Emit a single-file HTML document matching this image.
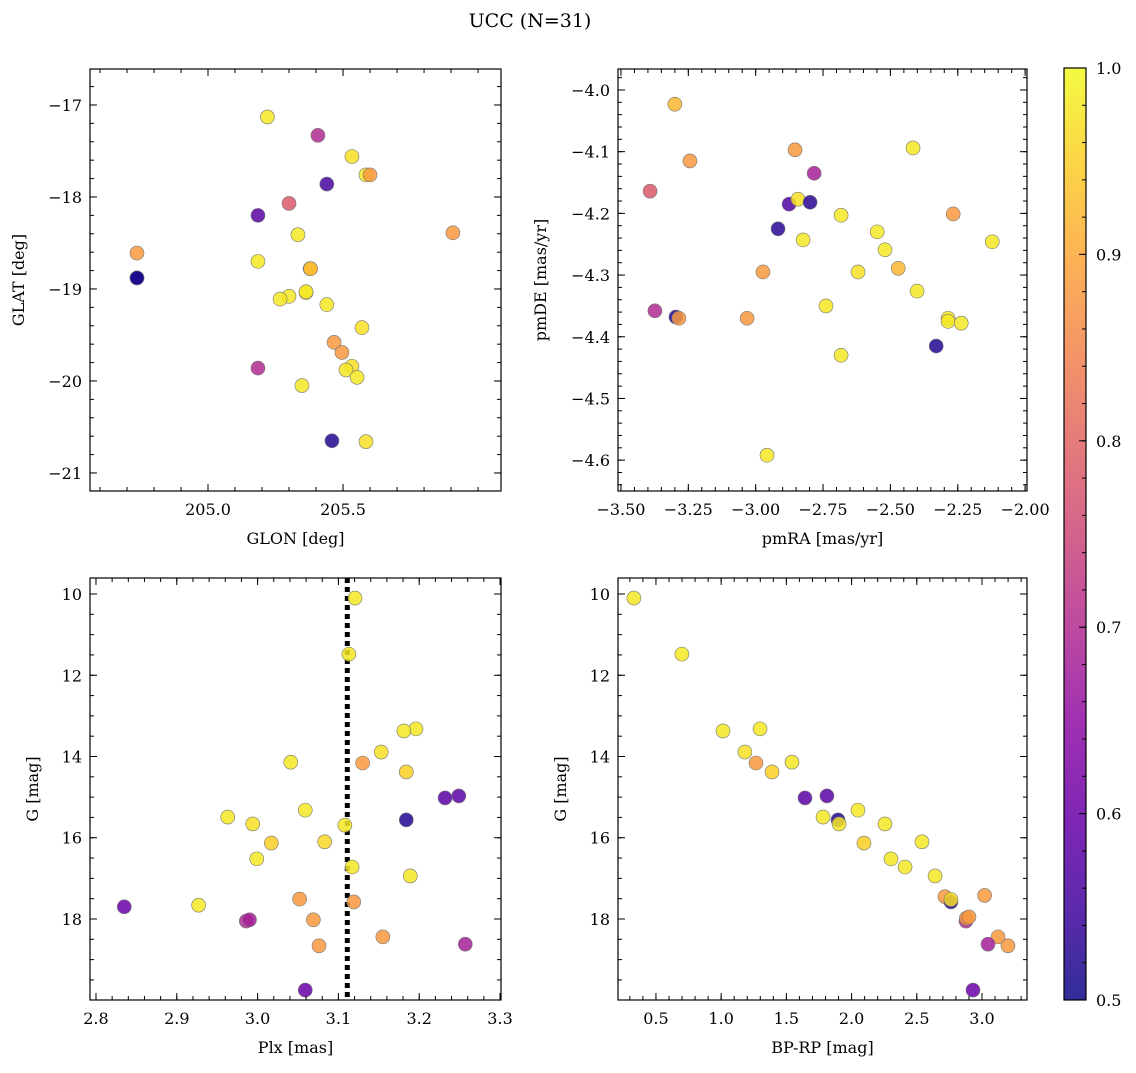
<!DOCTYPE html>
<html><head><meta charset="utf-8"><style>
body{margin:0;background:#fff}
svg text{font-family:"DejaVu Serif","Liberation Serif",serif;fill:#000}
</style></head><body>
<svg id="fig" width="1136" height="1068" viewBox="0 0 1136 1068" xmlns="http://www.w3.org/2000/svg">
<text x="530" y="27" font-size="19" text-anchor="middle">UCC (N=31)</text>
</svg>
<script>
// ---- data ----
const p1Glon=[205.22,205.407,205.533,205.585,205.60,205.44,205.30,205.185,205.333,205.907,204.737,205.185,205.378,205.38,204.737,204.737,205.363,205.30,205.267,205.44,205.57,205.467,205.496,205.533,205.511,205.552,205.185,205.348,205.459,205.585,205.363];
const p1Glat=[-17.13,-17.33,-17.56,-17.76,-17.76,-17.86,-18.07,-18.20,-18.41,-18.39,-18.61,-18.70,-18.78,-18.78,-18.88,-18.88,-19.04,-19.08,-19.11,-19.17,-19.42,-19.58,-19.69,-19.84,-19.88,-19.96,-19.86,-20.05,-20.65,-20.66,-19.03];
const p1Prob=[0.98,0.7,0.97,0.98,0.88,0.56,0.78,0.58,0.98,0.88,0.88,0.98,0.97,0.92,0.52,0.51,0.98,0.98,0.98,0.98,0.97,0.88,0.88,0.97,0.98,0.98,0.7,0.98,0.52,0.97,0.98];
const p2Pmra=[-3.30,-3.244,-3.392,-2.854,-2.783,-2.416,-2.876,-2.843,-2.798,-2.824,-2.917,-2.683,-2.267,-2.549,-2.52,-2.122,-2.973,-2.62,-2.471,-2.401,-2.739,-3.374,-3.296,-3.285,-3.032,-2.286,-2.286,-2.237,-2.330,-2.683,-2.958];
const p2Pmde=[-4.023,-4.115,-4.164,-4.097,-4.135,-4.094,-4.185,-4.177,-4.182,-4.243,-4.225,-4.203,-4.201,-4.230,-4.259,-4.246,-4.295,-4.295,-4.289,-4.326,-4.350,-4.358,-4.368,-4.370,-4.370,-4.370,-4.375,-4.378,-4.415,-4.430,-4.592];
const p2Prob=[0.92,0.88,0.78,0.88,0.68,0.98,0.57,0.97,0.53,0.98,0.53,0.98,0.88,0.98,0.98,0.98,0.88,0.97,0.92,0.98,0.98,0.7,0.52,0.88,0.88,0.98,0.98,0.98,0.52,0.98,0.98];
const p3Plx=[3.1205,3.113,3.196,3.181,3.153,3.041,3.130,3.184,3.232,3.249,3.184,3.059,2.963,2.994,3.108,3.017,3.083,2.999,3.117,3.189,2.835,2.927,3.052,3.119,3.069,2.986,2.99,3.076,3.155,3.257,3.059];
const p3G=[10.1,11.48,13.32,13.37,13.89,14.14,14.16,14.38,15.02,14.97,15.56,15.32,15.49,15.66,15.69,16.13,16.10,16.52,16.72,16.94,17.70,17.66,17.51,17.58,18.02,18.05,18.02,18.66,18.44,18.62,19.75];
const p3Prob=[0.98,0.98,0.98,0.98,0.97,0.98,0.88,0.95,0.58,0.58,0.52,0.98,0.98,0.97,0.98,0.95,0.96,0.98,0.98,0.98,0.6,0.98,0.88,0.88,0.88,0.7,0.68,0.88,0.88,0.68,0.6];
const p4Bprp=[0.331,0.699,1.014,1.298,1.182,1.267,1.39,1.543,1.643,1.811,1.896,1.781,1.904,2.049,2.256,2.095,2.54,2.302,2.41,2.640,2.716,2.762,2.762,3.02,2.877,2.88,2.9,3.123,3.046,3.199,2.931];
const p4G=[10.1,11.48,13.37,13.32,13.89,14.16,14.38,14.14,15.02,14.97,15.56,15.49,15.66,15.32,15.66,16.13,16.10,16.52,16.72,16.94,17.45,17.58,17.52,17.42,18.05,17.98,17.95,18.44,18.62,18.66,19.75];
const p4Prob=[0.98,0.98,0.98,0.98,0.97,0.88,0.95,0.98,0.58,0.58,0.52,0.98,0.98,0.98,0.98,0.95,0.98,0.98,0.98,0.98,0.88,0.52,0.97,0.88,0.7,0.88,0.88,0.88,0.68,0.88,0.6];
const plxCut=[3.111];
const cbTicks=[0.5,0.6,0.7,0.8,0.9,1.0];

const NS="http://www.w3.org/2000/svg";
const svg=document.getElementById('fig');
function mk(tag,attrs,parent){const e=document.createElementNS(NS,tag);for(const k in attrs)e.setAttribute(k,attrs[k]);(parent||svg).appendChild(e);return e;}
const stops=[[13,8,135],[65,4,157],[106,0,168],[143,13,164],[177,42,144],[204,71,120],[225,100,98],[242,132,75],[252,166,54],[252,206,37],[240,249,33]];
function plasma(t){t=Math.max(0,Math.min(1,t));const f=t*10,i=Math.min(9,Math.floor(f)),r=f-i;const a=stops[i],b=stops[i+1];return 'rgb('+a.map((v,k)=>Math.round(v+(b[k]-v)*r)).join(',')+')';}
function pcol(p){return plasma((p-0.5)/0.5);}
function rng(a,b,s){const o=[];for(let v=a;v<=b+1e-9;v+=s)o.push(+v.toFixed(6));return o;}

function panel(c){
  const g=mk('g',{},svg);
  
  
  const X=v=>c.x0+(v-c.xmin)/(c.xmax-c.xmin)*(c.x1-c.x0);
  const Y=v=>c.inv? c.y0+(v-c.ymin)/(c.ymax-c.ymin)*(c.y1-c.y0) : c.y1-(v-c.ymin)/(c.ymax-c.ymin)*(c.y1-c.y0);
  if(c.vline){for(const v of c.vline){const l=mk('line',{x1:X(v),x2:X(v),y1:c.y0,y2:c.y1,stroke:'#000','stroke-width':5,'stroke-dasharray':'5,4'},g);
    
    }}
  for(let i=0;i<c.xs.length;i++){
    const pt=mk('circle',{cx:X(c.xs[i]),cy:Y(c.ys[i]),r:7,fill:pcol(c.pr[i]),'fill-opacity':0.85,stroke:'#777','stroke-width':0.6},g);
    
    
  }
  const fr=mk('rect',{x:c.x0,y:c.y0,width:c.x1-c.x0,height:c.y1-c.y0,fill:'none',stroke:'#000','stroke-width':1.2},g);
  
  
  for(const v of c.xminor){if(v<c.xmin||v>c.xmax)continue;const x=X(v);mk('line',{x1:x,x2:x,y1:c.y1,y2:c.y1-4,stroke:'#000'},g);mk('line',{x1:x,x2:x,y1:c.y0,y2:c.y0+4,stroke:'#000'},g);}
  for(const v of c.yminor){if(v<c.ymin||v>c.ymax)continue;const y=Y(v);mk('line',{x1:c.x0,x2:c.x0+4,y1:y,y2:y,stroke:'#000'},g);mk('line',{x1:c.x1,x2:c.x1-4,y1:y,y2:y,stroke:'#000'},g);}
  for(const v of c.xt){const x=X(v);mk('line',{x1:x,x2:x,y1:c.y1,y2:c.y1-7,stroke:'#000'},g);mk('line',{x1:x,x2:x,y1:c.y0,y2:c.y0+7,stroke:'#000'},g);
    const t=mk('text',{x:x,y:c.y1+24,'font-size':16,'text-anchor':'middle'},g);t.textContent=c.xf(v);
    
    }
  for(const v of c.yt){const y=Y(v);mk('line',{x1:c.x0,x2:c.x0+7,y1:y,y2:y,stroke:'#000'},g);mk('line',{x1:c.x1,x2:c.x1-7,y1:y,y2:y,stroke:'#000'},g);
    const t=mk('text',{x:c.x0-8,y:y+6,'font-size':16,'text-anchor':'end'},g);t.textContent=c.yf(v);
    
    }
  const xl=mk('text',{x:(c.x0+c.x1)/2,y:c.y1+53,'font-size':16,'text-anchor':'middle'},g);xl.textContent=c.xlab;
  
  
  const yx=c.ylx, yy=(c.y0+c.y1)/2;
  const yl=mk('text',{x:yx,y:yy,'font-size':16,'text-anchor':'middle',transform:`rotate(-90 ${yx} ${yy})`},g);yl.textContent=c.ylab;
  
  
}
const minus=s=>s.replace('-','\u2212');
panel({name:'glon-glat-panel',x0:90,x1:501,y0:69,y1:491,xmin:204.563,xmax:206.085,ymin:-21.196,ymax:-16.609,
  xs:p1Glon,ys:p1Glat,pr:p1Prob,xt:[205.0,205.5],xf:v=>v.toFixed(1),yt:[-21,-20,-19,-18,-17],yf:v=>minus(String(v)),
  xminor:rng(204.6,206.1,0.1),yminor:rng(-21.2,-16.6,0.2),xlab:'GLON [deg]',ylab:'GLAT [deg]',ylx:24});
panel({name:'pm-panel',x0:618,x1:1027,y0:69,y1:491,xmin:-3.511,xmax:-1.993,ymin:-4.650,ymax:-3.966,
  xs:p2Pmra,ys:p2Pmde,pr:p2Prob,xt:[-3.5,-3.25,-3.0,-2.75,-2.5,-2.25,-2.0],xf:v=>minus(v.toFixed(2)),yt:[-4.6,-4.5,-4.4,-4.3,-4.2,-4.1,-4.0],yf:v=>minus(v.toFixed(1)),
  xminor:rng(-3.5,-2.0,0.05),yminor:rng(-4.64,-3.96,0.02),xlab:'pmRA [mas/yr]',ylab:'pmDE [mas/yr]',ylx:546});
panel({name:'plx-g-panel',x0:90,x1:501,y0:578,y1:1000,xmin:2.7926,xmax:3.3012,ymin:9.606,ymax:19.994,inv:true,
  xs:p3Plx,ys:p3G,pr:p3Prob,xt:[2.8,2.9,3.0,3.1,3.2,3.3],xf:v=>v.toFixed(1),yt:[10,12,14,16,18],yf:v=>String(v),
  xminor:rng(2.8,3.3,0.02),yminor:rng(10,19.5,0.5),xlab:'Plx [mas]',ylab:'G [mag]',ylx:38,vline:plxCut});
panel({name:'cmd-panel',x0:618,x1:1027,y0:578,y1:1000,xmin:0.209,xmax:3.345,ymin:9.606,ymax:19.994,inv:true,
  xs:p4Bprp,ys:p4G,pr:p4Prob,xt:[0.5,1.0,1.5,2.0,2.5,3.0],xf:v=>v.toFixed(1),yt:[10,12,14,16,18],yf:v=>String(v),
  xminor:rng(0.3,3.3,0.1),yminor:rng(10,19.5,0.5),xlab:'BP-RP [mag]',ylab:'G [mag]',ylx:566});

// colorbar
const cb=mk('g',{},svg);


const defs=mk('defs',{},svg);
const lg=mk('linearGradient',{id:'cbg',x1:0,y1:1,x2:0,y2:0},defs);
for(let i=0;i<=20;i++){mk('stop',{offset:i/20,'stop-color':plasma(i/20),'stop-opacity':0.85},lg);}
const cy0=68,cy1=1000,cx0=1064,cx1=1086;
mk('rect',{x:cx0,y:cy0,width:cx1-cx0,height:cy1-cy0,fill:'url(#cbg)',stroke:'#000','stroke-width':1.2},cb);
const CY=v=>cy1-(v-0.5)/0.5*(cy1-cy0);
for(const v of rng(0.5,1.0,0.02)){mk('line',{x1:cx1,x2:cx1-4,y1:CY(v),y2:CY(v),stroke:'#000'},cb);}
for(const v of cbTicks){const y=CY(v);mk('line',{x1:cx1,x2:cx1-7,y1:y,y2:y,stroke:'#000'},cb);
  const t=mk('text',{x:cx1+10,y:y+6,'font-size':16},cb);t.textContent=v.toFixed(1);
  
  }
</script>
</body></html>
